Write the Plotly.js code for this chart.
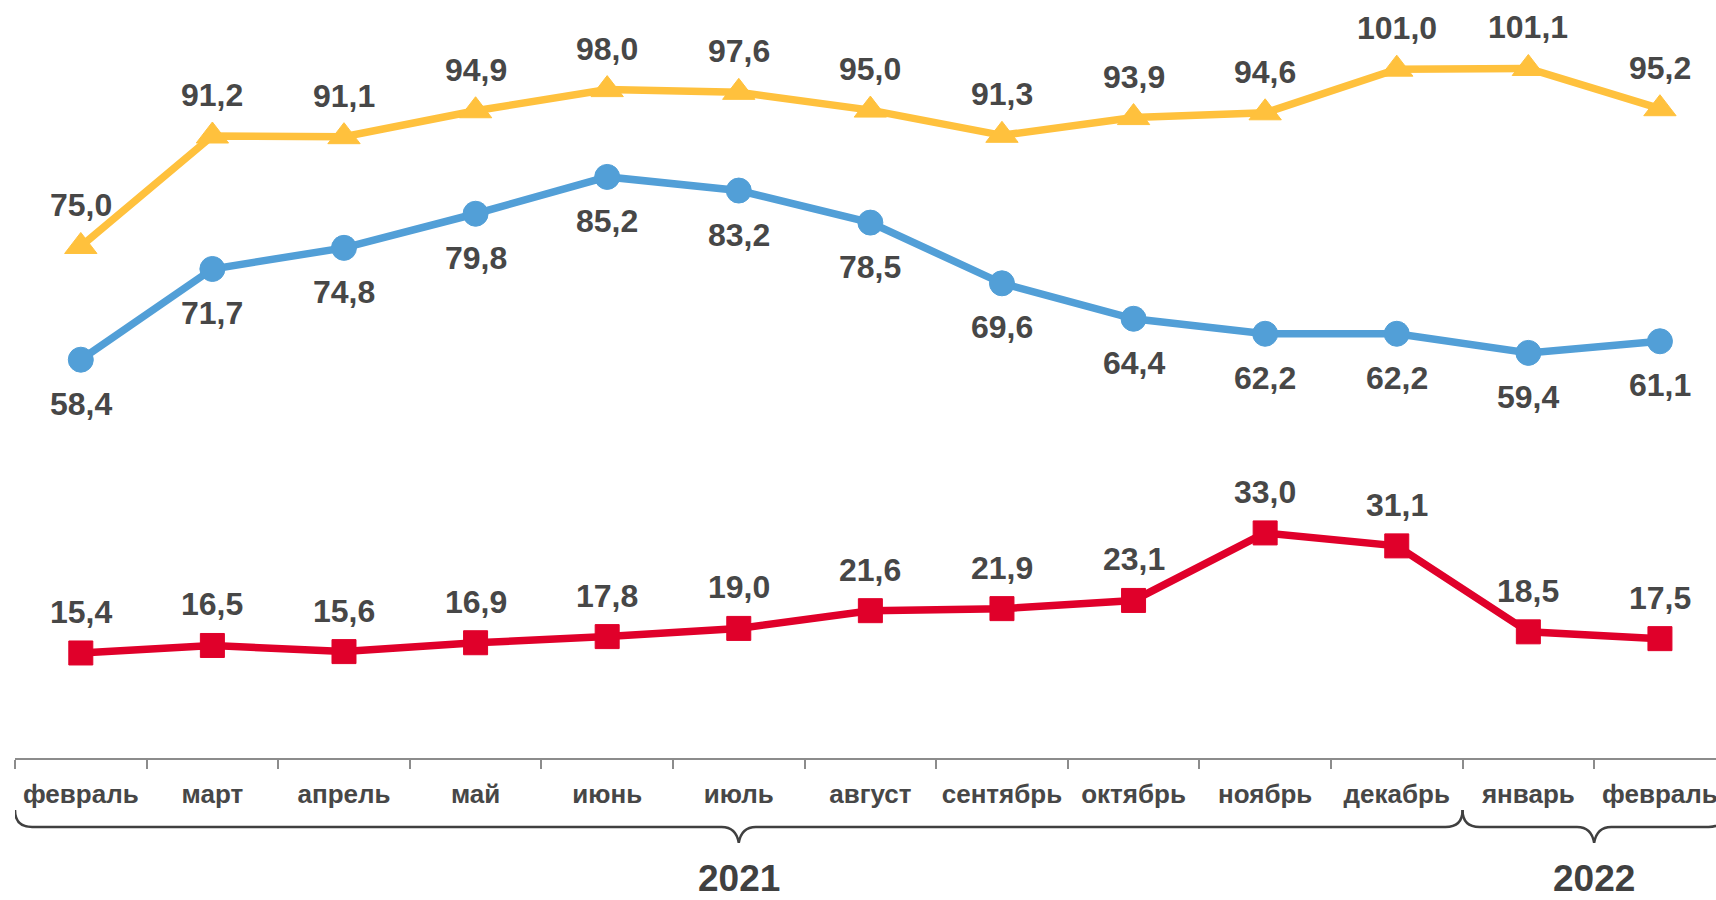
<!DOCTYPE html>
<html><head><meta charset="utf-8">
<script src="https://cdn.plot.ly/plotly-3.0.1.min.js"></script>
<style>html,body{margin:0;padding:0;overflow:hidden;background:#fff}</style>
</head><body><div id="chart" style="width:1716px;height:900px"></div>
<script>
const months = ['февраль','март','апрель','май','июнь','июль','август','сентябрь','октябрь','ноябрь','декабрь','январь','февраль'];
const years = ['2021','2022'];
const yearFirst = [0, 11];
const yearLast = [10, 12];
const seriesYellow = [75.0, 91.2, 91.1, 94.9, 98.0, 97.6, 95.0, 91.3, 93.9, 94.6, 101.0, 101.1, 95.2];
const seriesBlue = [58.4, 71.7, 74.8, 79.8, 85.2, 83.2, 78.5, 69.6, 64.4, 62.2, 62.2, 59.4, 61.1];
const seriesRed = [15.4, 16.5, 15.6, 16.9, 17.8, 19.0, 21.6, 21.9, 23.1, 33.0, 31.1, 18.5, 17.5];

const xIdx = months.map((m, i) => i);
const FONT = 'Liberation Sans, Arial, sans-serif';
const TXT = '#474747';
const C_Y = '#ffc13d', C_B = '#529fd7', C_R = '#e0002a';

function tr(vals, color, symbol, size) {
  return {x: xIdx, y: vals, type: 'scatter', mode: 'lines+markers', hoverinfo: 'skip',
    line: {color: color, width: 7.5},
    marker: {color: color, symbol: symbol, size: size, line: {color: color, width: 1}},
    cliponaxis: false};
}
const traces = [tr(seriesRed, C_R, 'square', 24), tr(seriesBlue, C_B, 'circle', 25), tr(seriesYellow, C_Y, 'triangle-up', 28)];

function labels(vals, shift) {
  return vals.map((v, i) => ({x: xIdx[i], y: v, xref: 'x', yref: 'y', showarrow: false,
    text: v.toFixed(1).replace('.', ','), yshift: shift, xanchor: 'center', yanchor: 'middle',
    font: {family: FONT, size: 32, color: TXT, weight: 700}}));
}
const annotations = [].concat(labels(seriesYellow, 41), labels(seriesBlue, -44), labels(seriesRed, 41));
years.forEach((yr, k) => {
  annotations.push({x: (yearFirst[k] + yearLast[k]) / 2, y: -0.1873, xref: 'x', yref: 'paper', showarrow: false,
    text: yr, xanchor: 'center', yanchor: 'bottom', borderpad: 0,
    font: {family: FONT, size: 37, color: '#404040', weight: 700}});
});

const yTop = -0.0686, yLine = -0.091, yTip = -0.112, rx = 0.13;
function bracePath(a, b) {
  const x0 = a - 0.5, x1 = b + 0.5, m = (x0 + x1) / 2;
  return `M${x0},${yTop} Q${x0},${yLine} ${x0 + rx},${yLine} L${m - rx},${yLine} Q${m - 0.02},${yLine} ${m},${yTip} ` +
         `Q${m + 0.02},${yLine} ${m + rx},${yLine} L${x1 - rx},${yLine} Q${x1},${yLine} ${x1},${yTop}`;
}
const shapes = years.map((yr, k) => ({type: 'path', xref: 'x', yref: 'paper', path: bracePath(yearFirst[k], yearLast[k]),
  line: {color: '#404040', width: 2.5}}));

const layout = {
  width: 1716, height: 900, margin: {l: 15, r: 0, t: 0, b: 142},
  paper_bgcolor: '#fff', plot_bgcolor: '#fff', showlegend: false,
  xaxis: {range: [-0.5, 12.426], tickmode: 'array', tickvals: xIdx, ticktext: months,
    ticks: 'outside', ticklen: 12, tickcolor: 'rgba(0,0,0,0)', showline: true, linecolor: '#8c8c8c', linewidth: 2,
    showgrid: false, zeroline: false, fixedrange: true, ticklabeloverflow: 'allow',
    tickfont: {family: FONT, size: 26, color: TXT, weight: 700},
    minor: {tickmode: 'linear', tick0: -0.5, dtick: 1, ticks: 'outside', ticklen: 9, tickcolor: '#8c8c8c', tickwidth: 2, showgrid: false}},
  yaxis: {range: [0, 111.14], visible: false, fixedrange: true},
  annotations: annotations, shapes: shapes
};
Plotly.newPlot('chart', traces, layout, {staticPlot: true, displayModeBar: false});
</script></body></html>
